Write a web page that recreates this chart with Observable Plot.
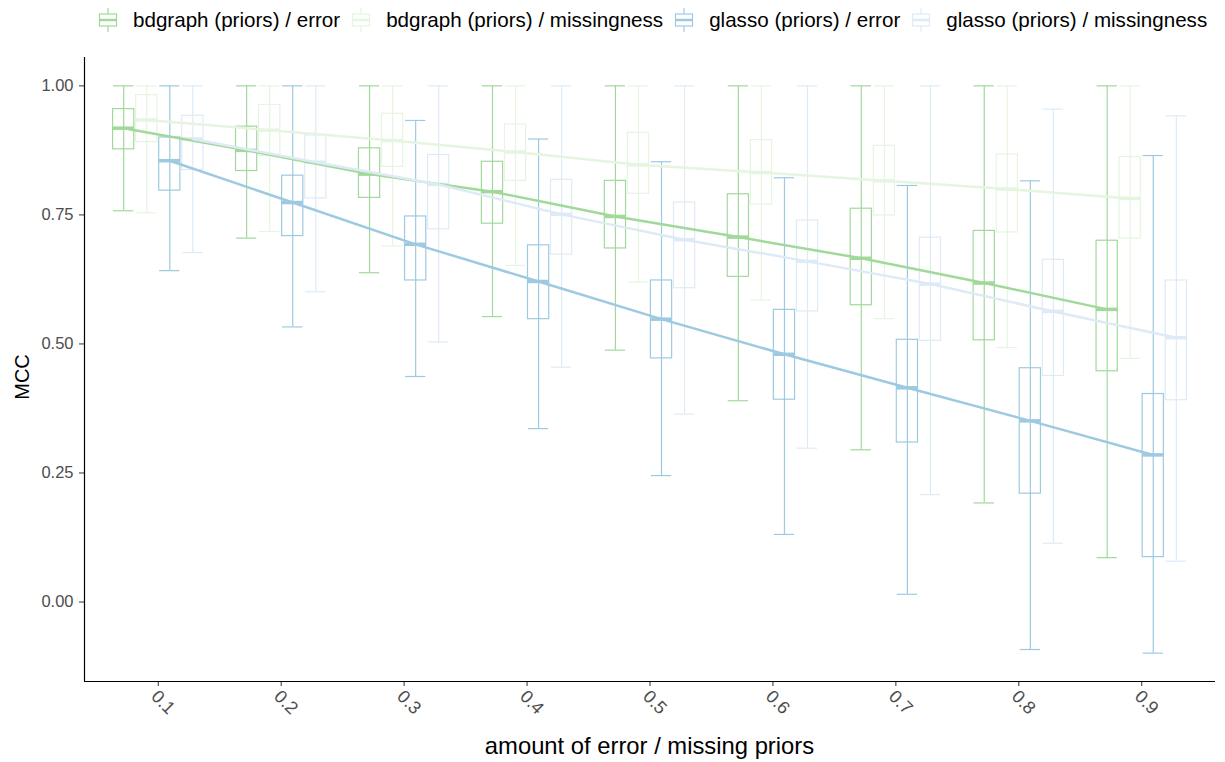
<!DOCTYPE html>
<html>
<head>
<meta charset="utf-8">
<script src="https://cdn.jsdelivr.net/npm/d3@7"></script>
<script src="https://cdn.jsdelivr.net/npm/@observablehq/plot@0.6"></script>
<style>
  body { margin: 0; background: #fff; font-family: "Liberation Sans", Arial, sans-serif; }
  #legend { height: 40px; display: flex; align-items: center; padding-left: 98px; font-size: 20.6px; color: #000; }
  .item { display: flex; align-items: center; margin-right: 11px; white-space: nowrap; }
  .item svg { margin-right: 15px; }
  #chart svg { display: block; }
</style>
</head>
<body>
<div id="legend"></div>
<div id="chart"></div>
<script>
// Amount of error / missing priors on the x axis
const levels = [0.1, 0.2, 0.3, 0.4, 0.5, 0.6, 0.7, 0.8, 0.9];

const seriesNames = [
  "bdgraph (priors) / error",
  "bdgraph (priors) / missingness",
  "glasso (priors) / error",
  "glasso (priors) / missingness"
];
const seriesColors = ["#a1d99b", "#e5f5e0", "#9ecae1", "#deebf7"];

// Box-plot summaries of MCC per series: whisker ends, quartiles and median
const bdgraphErrorMax = [1, 1, 1, 1, 1, 1, 1, 1, 1];
const bdgraphErrorQ3  = [0.955, 0.921, 0.879, 0.853, 0.816, 0.790, 0.762, 0.719, 0.700];
const bdgraphErrorMed = [0.918, 0.875, 0.829, 0.795, 0.747, 0.707, 0.666, 0.618, 0.567];
const bdgraphErrorQ1  = [0.877, 0.835, 0.783, 0.733, 0.685, 0.630, 0.575, 0.507, 0.447];
const bdgraphErrorMin = [0.758, 0.705, 0.638, 0.553, 0.488, 0.390, 0.295, 0.192, 0.086];

const bdgraphMissMax = [1, 1, 1, 1, 1, 1, 1, 1, 1];
const bdgraphMissQ3  = [0.982, 0.963, 0.946, 0.925, 0.909, 0.895, 0.884, 0.867, 0.862];
const bdgraphMissMed = [0.934, 0.914, 0.894, 0.872, 0.847, 0.832, 0.816, 0.800, 0.782];
const bdgraphMissQ1  = [0.891, 0.864, 0.843, 0.816, 0.791, 0.770, 0.749, 0.716, 0.704];
const bdgraphMissMin = [0.754, 0.718, 0.690, 0.652, 0.620, 0.585, 0.549, 0.493, 0.472];

const glassoErrorMax = [1, 1, 0.933, 0.897, 0.853, 0.822, 0.807, 0.816, 0.865];
const glassoErrorQ3  = [0.900, 0.826, 0.747, 0.691, 0.623, 0.566, 0.508, 0.453, 0.403];
const glassoErrorMed = [0.855, 0.774, 0.693, 0.621, 0.548, 0.480, 0.415, 0.351, 0.285];
const glassoErrorQ1  = [0.797, 0.709, 0.623, 0.548, 0.472, 0.392, 0.309, 0.210, 0.087];
const glassoErrorMin = [0.642, 0.533, 0.437, 0.336, 0.245, 0.131, 0.015, -0.092, -0.099];

const glassoMissMax = [1, 1, 1, 1, 1, 1, 1, 0.955, 0.942];
const glassoMissQ3  = [0.942, 0.904, 0.866, 0.818, 0.774, 0.739, 0.706, 0.663, 0.623];
const glassoMissMed = [0.897, 0.852, 0.809, 0.751, 0.702, 0.660, 0.616, 0.563, 0.512];
const glassoMissQ1  = [0.837, 0.782, 0.722, 0.673, 0.608, 0.563, 0.506, 0.438, 0.391];
const glassoMissMin = [0.677, 0.601, 0.504, 0.455, 0.364, 0.298, 0.208, 0.114, 0.079];

const yTicks = [0, 0.25, 0.5, 0.75, 1];

const seriesStats = [
  [bdgraphErrorMin, bdgraphErrorQ1, bdgraphErrorMed, bdgraphErrorQ3, bdgraphErrorMax],
  [bdgraphMissMin, bdgraphMissQ1, bdgraphMissMed, bdgraphMissQ3, bdgraphMissMax],
  [glassoErrorMin, glassoErrorQ1, glassoErrorMed, glassoErrorQ3, glassoErrorMax],
  [glassoMissMin, glassoMissQ1, glassoMissMed, glassoMissQ3, glassoMissMax]
];

// Dodge the four series inside each level
const step = 0.1;
const slot = step * 0.75 / seriesNames.length;
const boxHalf = slot * 0.46;
const capHalf = slot * 0.44;

const rows = [];
seriesNames.forEach((name, k) => {
  const [mn, q1, md, q3, mx] = seriesStats[k];
  levels.forEach((lv, i) => {
    rows.push({
      series: name, level: lv,
      pos: lv + (k - (seriesNames.length - 1) / 2) * slot,
      min: mn[i], q1: q1[i], med: md[i], q3: q3[i], max: mx[i]
    });
  });
});

const xDomain = [levels[0] - 0.6 * step, levels[levels.length - 1] + 0.6 * step];
const yMin = d3.min(rows, d => d.min), yMax = d3.max(rows, d => d.max);
const yPad = (yMax - yMin) * 0.05;
const yDomain = [yMin - yPad, yMax + yPad];

const W = 1225, H = 722;
const M = { top: 17, bottom: 81, left: 84, right: 10 };
const tickColor = "#333", labelColor = "#4d4d4d";
const plot = Plot.plot({
  width: W, height: H,
  marginTop: M.top, marginBottom: M.bottom, marginLeft: M.left, marginRight: M.right,
  style: { fontFamily: "Liberation Sans, Arial, sans-serif", background: "#fff", overflow: "visible" },
  x: { type: "linear", domain: xDomain },
  y: { domain: yDomain },
  color: { domain: seriesNames, range: seriesColors },
  marks: [
    // whiskers
    Plot.ruleX(rows, { x: "pos", y1: "min", y2: "max", stroke: "series", strokeWidth: 1.2 }),
    Plot.ruleY(rows, { y: "max", x1: d => d.pos - capHalf, x2: d => d.pos + capHalf, stroke: "series", strokeWidth: 1.2 }),
    Plot.ruleY(rows, { y: "min", x1: d => d.pos - capHalf, x2: d => d.pos + capHalf, stroke: "series", strokeWidth: 1.2 }),
    // boxes
    Plot.rect(rows, { x1: d => d.pos - boxHalf, x2: d => d.pos + boxHalf, y1: "q1", y2: "q3", stroke: "series", fill: "none", strokeWidth: 1.2 }),
    Plot.ruleY(rows, { y: "med", x1: d => d.pos - boxHalf, x2: d => d.pos + boxHalf, stroke: "series", strokeWidth: 3.5 }),
    // median trend per series
    Plot.line(rows, { x: "pos", y: "med", z: "series", stroke: "series", strokeWidth: 2.5 }),
    // tick marks
    Plot.axisY({ ticks: yTicks, tickFormat: () => "", tickSize: 5, label: null, stroke: tickColor }),
    Plot.axisX({ ticks: levels, tickFormat: () => "", tickSize: 5, label: null, stroke: tickColor }),
    // tick labels
    Plot.text(yTicks, { y: d => d, text: d3.format(".2f"), frameAnchor: "left", dx: -11, textAnchor: "end", fontSize: 16.5, fill: labelColor }),
    Plot.text(levels, { x: d => d, text: d3.format(".1f"), frameAnchor: "bottom", dx: -4, dy: 12, rotate: 45, textAnchor: "start", lineAnchor: "middle", fontSize: 18, fill: labelColor }),
    // axis lines
    Plot.ruleX([xDomain[0]], { stroke: "#000", strokeWidth: 1.2 }),
    Plot.ruleY([yDomain[0]], { stroke: "#000", strokeWidth: 1.2 })
  ]
});

const svg = d3.select(plot);
const panelMidX = (M.left + (W - M.right)) / 2;
const panelMidY = (M.top + (H - M.bottom)) / 2;
svg.append("text")
  .attr("transform", `translate(22,${panelMidY + 8}) rotate(-90)`)
  .attr("text-anchor", "middle").attr("dominant-baseline", "central")
  .style("font-size", "20px").attr("fill", "#000").text("MCC");
svg.append("text")
  .attr("x", panelMidX).attr("y", H - 8)
  .attr("text-anchor", "middle")
  .style("font-size", "23.8px").attr("fill", "#000").text("amount of error / missing priors");

document.getElementById("chart").appendChild(plot);

// Legend with box-plot glyph keys
const legend = d3.select("#legend");
seriesNames.forEach((name, k) => {
  const item = legend.append("div").attr("class", "item");
  const key = item.append("svg").attr("width", 20).attr("height", 26);
  const c = seriesColors[k];
  key.append("line").attr("x1", 10).attr("x2", 10).attr("y1", 1).attr("y2", 25).attr("stroke", c).attr("stroke-width", 1.2);
  key.append("rect").attr("x", 1.5).attr("y", 7).attr("width", 17).attr("height", 12).attr("fill", "#fff").attr("stroke", c).attr("stroke-width", 1.2);
  key.append("line").attr("x1", 1.5).attr("x2", 18.5).attr("y1", 13).attr("y2", 13).attr("stroke", c).attr("stroke-width", 2.5);
  item.append("span").text(name);
});
</script>
</body>
</html>
